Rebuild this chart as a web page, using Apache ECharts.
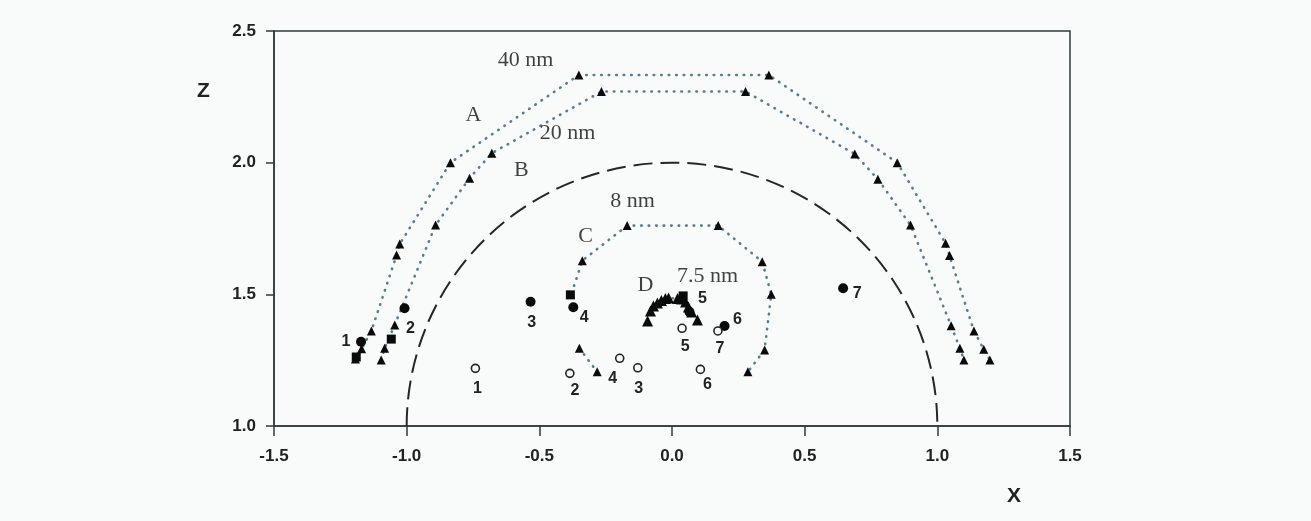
<!DOCTYPE html>
<html>
<head>
<meta charset="utf-8">
<script src="https://cdn.jsdelivr.net/npm/echarts@6/dist/echarts.min.js"></script>
<style>
  html, body { margin: 0; padding: 0; background: #f9fafa; }
  #chart { width: 1311px; height: 521px; }
</style>
</head>
<body>
<div id="chart"></div>
<script>
// ticks
var xTicks = [-1.5, -1.0, -0.5, 0.0, 0.5, 1.0, 1.5];
var zTicks = [1.0, 1.5, 2.0, 2.5];

// reference circle: centre x, centre z, radius
var circle20 = [[0, 1, 1]];

// triangle curves (x, z)
var curveA = [[-1.193, 1.254], [-1.170, 1.293], [-1.133, 1.361], [-1.038, 1.649], [-1.026, 1.691],
  [-0.835, 2.000], [-0.351, 2.333], [0.365, 2.333], [0.849, 2.000], [1.031, 1.694],
  [1.046, 1.647], [1.138, 1.361], [1.175, 1.291], [1.198, 1.251]];
var curveB = [[-1.096, 1.251], [-1.083, 1.295], [-1.045, 1.384], [-0.891, 1.763], [-0.763, 1.941],
  [-0.679, 2.036], [-0.266, 2.270], [0.277, 2.270], [0.689, 2.033], [0.776, 1.937],
  [0.899, 1.763], [1.052, 1.381], [1.085, 1.295], [1.100, 1.251]];
var curveCUpper = [[-0.378, 1.505], [-0.338, 1.628], [-0.169, 1.761], [0.174, 1.761], [0.340, 1.624],
  [0.374, 1.500], [0.349, 1.289], [0.286, 1.206]];
var curveCLower = [[-0.349, 1.295], [-0.282, 1.206]];
var curveD = [[-0.092, 1.399], [-0.081, 1.437], [-0.070, 1.456], [-0.055, 1.467], [-0.040, 1.477],
  [-0.025, 1.484], [-0.013, 1.486], [0.021, 1.484], [0.036, 1.482], [0.051, 1.471],
  [0.062, 1.452], [0.074, 1.433], [0.096, 1.403]];

// numbered points
var pointNames = ['1', '2', '3', '4', '5', '6', '7'];
var filledDots = [[-1.172, 1.320], [-1.008, 1.447], [-0.533, 1.472], [-0.372, 1.451],
  [0.066, 1.433], [0.198, 1.380], [0.645, 1.523]];
var openDots = [[-0.741, 1.219], [-0.385, 1.200], [-0.129, 1.221], [-0.197, 1.257],
  [0.038, 1.371], [0.107, 1.215], [0.173, 1.361]];
var squares = [[-1.190, 1.262], [-1.058, 1.330], [-0.383, 1.498], [0.042, 1.494]];

// text notes
var noteTexts = ['40 nm', 'A', '20 nm', 'B', '8 nm', 'C', 'D', '7.5 nm'];
var notePos = [[-0.552, 2.390], [-0.748, 2.181], [-0.394, 2.113], [-0.568, 1.972],
  [-0.149, 1.852], [-0.326, 1.719], [-0.100, 1.535], [0.134, 1.567]];

// label offsets (px, from marker centre)
var filledOffsets = [[-15, 0], [6, 20], [1, 21], [11, 10], [13, -13], [13, -6], [14, 5]];
var openOffsets = [[2, 20], [5, 17], [1, 21], [-7, 20], [3, 18], [7, 15], [2, 18]];

var chart = echarts.init(document.getElementById('chart'));

var dotted = { type: [0.5, 7], width: 2.6, color: '#5b7a8a', cap: 'round' };
var sans = 'Liberation Sans, Arial, sans-serif';
var serif = 'Liberation Serif, Times New Roman, serif';

function curve(name, data, size) {
  return {
    name: name,
    type: 'line',
    data: data,
    symbol: 'triangle',
    symbolSize: size || 9,
    showAllSymbol: true,
    lineStyle: dotted,
    itemStyle: { color: '#0a0a0a', opacity: 1 },
    emphasis: { disabled: true },
    z: 3
  };
}

function numbered(points, offsets) {
  return points.map(function (p, i) {
    return {
      value: p,
      label: { show: true, formatter: pointNames[i], position: 'inside', offset: offsets[i] }
    };
  });
}

var option = {
  backgroundColor: '#f9fafa',
  animation: false,
  grid: {
    left: 274, right: 241, top: 31, bottom: 95,
    show: true, borderColor: '#2f3a3e', borderWidth: 1.5, backgroundColor: 'transparent'
  },
  xAxis: {
    type: 'value',
    min: xTicks[0], max: xTicks[xTicks.length - 1], interval: 0.5,
    axisLine: { show: true, onZero: false, lineStyle: { color: '#2f3a3e', width: 1.5 } },
    axisTick: { show: true, length: 10, lineStyle: { color: '#2f3a3e', width: 1.5 } },
    splitLine: { show: false },
    axisLabel: {
      margin: 22, fontSize: 17, fontWeight: 'bold', color: '#222', fontFamily: sans,
      formatter: function (v) { return v.toFixed(1); }
    }
  },
  yAxis: {
    type: 'value',
    min: zTicks[0], max: zTicks[zTicks.length - 1], interval: 0.5,
    axisLine: { show: true, onZero: false, lineStyle: { color: '#2f3a3e', width: 1.5 } },
    axisTick: { show: true, length: 8, lineStyle: { color: '#2f3a3e', width: 1.5 } },
    splitLine: { show: false },
    axisLabel: {
      margin: 18, fontSize: 17, fontWeight: 'bold', color: '#222', fontFamily: sans,
      formatter: function (v) { return v.toFixed(1); }
    }
  },
  graphic: [
    { type: 'text', left: 197, top: 81, style: { text: 'Z', fill: '#222', font: 'bold 21px Liberation Sans' } },
    { type: 'text', left: 1007, top: 486, style: { text: 'X', fill: '#222', font: 'bold 21px Liberation Sans' } }
  ],
  series: [
    {
      type: 'custom',
      data: circle20,
      encode: { x: 0, y: 1 },
      silent: true,
      z: 1,
      renderItem: function (params, api) {
        var c = api.coord([api.value(0), api.value(1)]);
        var s = api.size([api.value(2), api.value(2)]);
        return {
          type: 'arc',
          shape: { cx: c[0], cy: c[1], r: s[0], startAngle: Math.PI, endAngle: 2 * Math.PI, clockwise: true },
          originX: c[0], originY: c[1], scaleY: s[1] / s[0],
          style: { fill: 'none', stroke: '#262626', lineWidth: 2, lineDash: [19, 8] }
        };
      }
    },
    curve('A', curveA),
    curve('B', curveB),
    curve('C', curveCUpper.map(function (p, i) { return i === 0 ? { value: p, symbol: 'none' } : p; })),
    curve('C2', curveCLower),
    curve('D', curveD, 11),
    {
      name: 'squares', type: 'scatter', data: squares,
      symbol: 'rect', symbolSize: 9, itemStyle: { color: '#0a0a0a', opacity: 1 }, z: 4,
      emphasis: { disabled: true }
    },
    {
      name: 'filled', type: 'scatter', data: numbered(filledDots, filledOffsets),
      symbol: 'circle', symbolSize: 10, itemStyle: { color: '#0a0a0a', opacity: 1 }, z: 5,
      label: { color: '#222', fontSize: 16, fontWeight: 'bold', fontFamily: sans },
      emphasis: { disabled: true }
    },
    {
      name: 'open', type: 'scatter', data: numbered(openDots, openOffsets),
      symbol: 'circle', symbolSize: 8,
      itemStyle: { color: '#fafafa', borderColor: '#222', borderWidth: 1.6, opacity: 1 }, z: 5,
      label: { color: '#222', fontSize: 16, fontWeight: 'bold', fontFamily: sans },
      emphasis: { disabled: true }
    },
    {
      name: 'notes', type: 'scatter', symbolSize: 0, silent: true, z: 6,
      data: notePos.map(function (p, i) {
        return { value: p, label: { show: true, formatter: noteTexts[i], position: 'inside' } };
      }),
      label: { color: '#111', fontSize: 22, fontFamily: serif }
    }
  ]
};

chart.setOption(option);
</script>
</body>
</html>
